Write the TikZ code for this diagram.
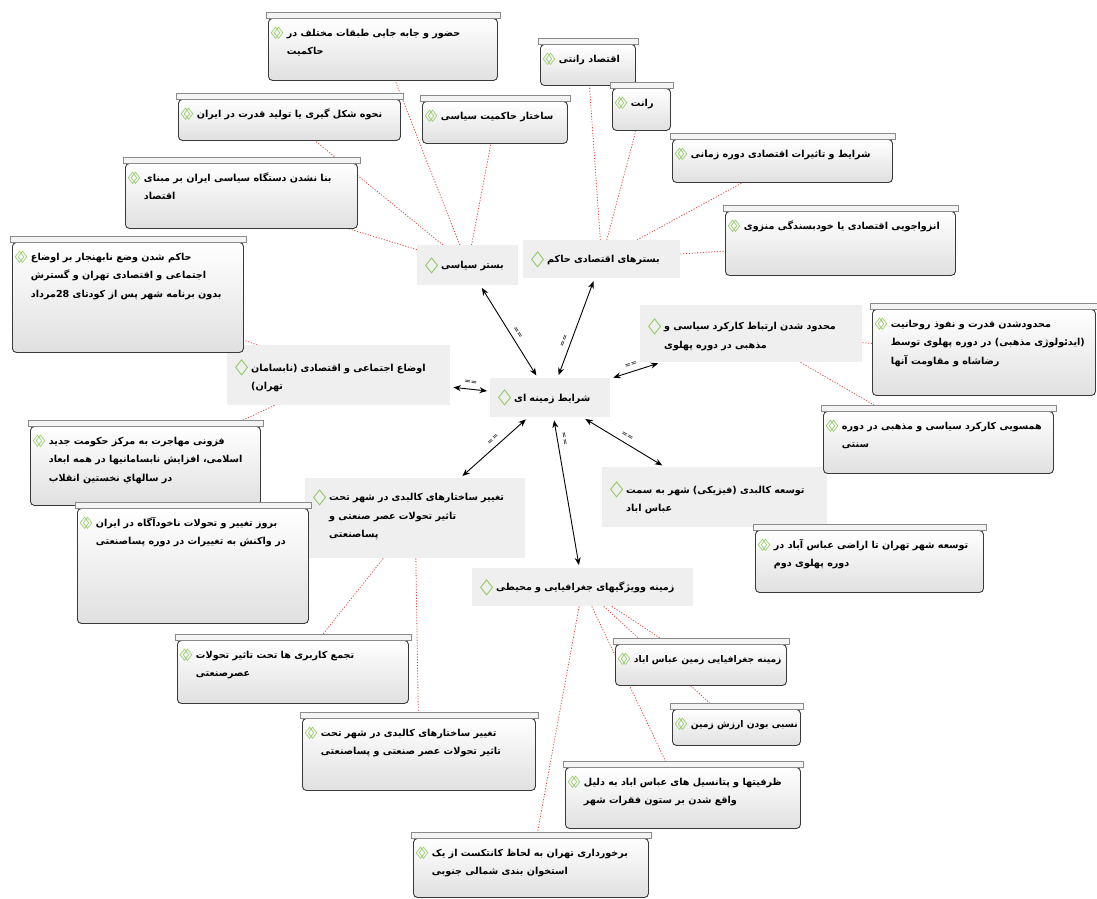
\documentclass[tikz,border=0pt]{standalone}
\usepackage{fontspec}
\usepackage{graphicx}
\usetikzlibrary{arrows.meta}
\TeXXeTstate=1
\newfontfamily\fa[Script=Arabic]{DejaVu Sans}
\newfontfamily\symf{DejaVu Sans}
\definecolor{codebg}{HTML}{EFEFEF}
\definecolor{qborder}{HTML}{3A3A3A}
\definecolor{qbot}{HTML}{E0E0E0}
\definecolor{barfill}{HTML}{F4F4F4}
\definecolor{bargray}{HTML}{8A8A8A}
\definecolor{relred}{HTML}{E0504A}
\definecolor{icongreen}{HTML}{8DC85A}
\newcommand\qfont{\fa\bfseries\fontsize{9.6}{18.5}\selectfont}
\newcommand\sm{\fontsize{9.2}{18.5}\selectfont}
\newcommand\RL[1]{\mbox{\beginR#1\endR}}
\newcommand\ico{\strut\makebox[16pt][l]{\smash{\raisebox{-2.5pt}{\textcolor{icongreen}{\symf\fontsize{18}{18}\selectfont\scalebox{0.95}[1.2]{◇}}}}}}
\newcommand\icoq{\makebox[16pt][l]{\smash{\raisebox{-1.5pt}{\textcolor{icongreen}{\symf\fontsize{13}{13}\selectfont\scalebox{0.95}[1.25]{◇\kern-7pt◇}}}}}}
\newcommand\qbody[3]{\parbox[t][#2][t]{#1}{\qfont\raggedright\strut #3}}
\newcommand\ind{\hspace*{16pt}}
\pgfdeclarelayer{bg}
\pgfsetlayers{bg,main}
\begin{document}
\begin{tikzpicture}[x=1pt,y=-1pt,
  code/.style={fill=codebg, inner xsep=8pt, inner ysep=0pt, anchor=north west, align=left, font=\qfont},
  qb/.style={draw=qborder, line width=0.9pt, rounded corners=4pt, top color=white, bottom color=qbot, inner xsep=2.5pt, inner ysep=5pt, anchor=north west},
  qbar/.style={fill=barfill, draw=bargray, line width=0.6pt},
  rel/.style={draw=relred, line width=0.8pt, dash pattern=on 1.2pt off 1.6pt},
  arr/.style={{Stealth[length=7.5pt,width=6pt]}-{Stealth[length=7.5pt,width=6pt]}, line width=0.9pt, shorten <=3pt, shorten >=3pt},
  lbl/.style={font=\symf\fontsize{7.5}{7.5}\selectfont, sloped, above=4pt, inner sep=0.5pt}]
\useasboundingbox (0,0) rectangle (1097,899);

% code nodes
\node[code, minimum width=120pt, minimum height=39pt, text width=104pt] (c0) at (490,378) {\ico\RL{شرایط زمینه ای}};
\node[code, minimum width=101pt, minimum height=40pt, text width=85pt] (c1) at (417,245) {\ico\RL{بستر سیاسی}};
\node[code, minimum width=157pt, minimum height=38pt, text width=141pt] (c2) at (523,240) {\ico\RL{بسترهای اقتصادی حاکم}};
\node[code, minimum width=223pt, minimum height=60pt, text width=207pt] (c3) at (227,345) {\ico\RL{اوضاع اجتماعی و اقتصادی (نابسامان}\\\ind\RL{تهران)}};
\node[code, minimum width=222pt, minimum height=57pt, text width=206pt] (c4) at (640,305) {\ico\RL{محدود شدن ارتباط کارکرد سیاسی و}\\\ind\RL{مذهبی در دوره پهلوی}};
\node[code, minimum width=225pt, minimum height=60pt, text width=209pt] (c5) at (602,467) {\ico\RL{توسعه کالبدی (فیزیکی) شهر به سمت}\\\ind\RL{عباس اباد}};
\node[code, minimum width=220pt, minimum height=80pt, text width=204pt] (c6) at (305,478) {\ico\RL{تغییر ساختارهای کالبدی در شهر تحت}\\\ind\RL{تاثیر تحولات عصر صنعتی و}\\\ind\RL{پساصنعتی}\\[-8pt]\mbox{}};
\node[code, minimum width=221pt, minimum height=38pt, text width=205pt] (c7) at (472,568) {\ico\RL{زمینه وویژگیهای جغرافیایی و محیطی}};

% quotation boxes
\node[qb] (A) at (268,18) {\qbody{224pt}{52pt}{\icoq\RL{حضور و جابه جایی طبقات مختلف در}\\\ind\RL{حاکمیت}}};
\node[qb] (B) at (178,99) {\qbody{217pt}{31pt}{\icoq\RL{نحوه شکل گیری یا تولید قدرت در ایران}}};
\node[qb] (C) at (125,163) {\qbody{227pt}{55pt}{\icoq\RL{بنا نشدن دستگاه سیاسی ایران بر مبنای}\\\ind\RL{اقتصاد}}};
\node[qb] (D) at (422,101) {\qbody{140pt}{32pt}{\icoq\RL{ساختار حاکمیت سیاسی}}};
\node[qb] (E) at (540,44) {\qbody{90pt}{31pt}{\icoq\RL{اقتصاد رانتی}}};
\node[qb] (F) at (612,88) {\qbody{53pt}{32pt}{\icoq\RL{رانت}}};
\node[qb] (G) at (672,139) {\qbody{215pt}{33pt}{\icoq\RL{شرایط و تاثیرات اقتصادی دوره زمانی}}};
\node[qb] (H) at (725,211) {\qbody{225pt}{54pt}{\icoq\RL{انزواجویی اقتصادی یا خودبسندگی منزوی}}};
\node[qb] (I) at (12,242) {\qbody{226pt}{100pt}{\icoq\RL{حاکم شدن وضع نابهنجار بر اوضاع}\\\ind\RL{اجتماعی و اقتصادی تهران و گسترش}\\\ind\RL{بدون برنامه شهر پس از کودتای 28مرداد}}};
\node[qb] (J) at (30,426) {\qbody{225pt}{69pt}{\icoq\RL{فزونی مهاجرت به مرکز حکومت جدید}\\\ind\RL{اسلامی، افزایش نابسامانیها در همه ابعاد}\\\ind\RL{در سالهاي نخستين انقلاب}}};
\node[qb] (K) at (872,309) {\qbody{218pt}{76pt}{\icoq\RL{محدودشدن قدرت و نفوذ روحانیت}\\\ind\RL{(ایدئولوژی مذهبی) در دوره پهلوی توسط}\\\ind\RL{رضاشاه و مقاومت آنها}}};
\node[qb] (L) at (823,411) {\qbody{225pt}{52pt}{\icoq\RL{همسویی کارکرد سیاسی و مذهبی در دوره}\\\ind\RL{سنتی}}};
\node[qb] (M) at (755,530) {\qbody{223pt}{52pt}{\icoq\RL{توسعه شهر تهران تا اراضی عباس آباد در}\\\ind\RL{دوره پهلوی دوم}}};
\node[qb] (N) at (77,508) {\qbody{226pt}{105pt}{\icoq\RL{بروز تغییر و تحولات ناخودآگاه در ایران}\\\ind\RL{در واکنش به تغییرات در دوره پساصنعتی}}};
\node[qb] (O) at (177,640) {\qbody{226pt}{53pt}{\icoq\RL{تجمع کاربری ها تحت تاثیر تحولات}\\\ind\RL{عصرصنعتی}}};
\node[qb] (P) at (302,718) {\qbody{228pt}{62pt}{\icoq\RL{تغییر ساختارهای کالبدی در شهر تحت}\\\ind\RL{تاثیر تحولات عصر صنعتی و پساصنعتی}}};
\node[qb] (Q) at (615,644) {\qbody{166pt}{31pt}{\icoq\sm\RL{زمینه جغرافیایی زمین عباس اباد}}};
\node[qb] (R) at (672,709) {\qbody{123pt}{26pt}{\icoq\sm\RL{نسبی بودن ارزش زمین}}};
\node[qb] (S) at (565,767) {\qbody{230pt}{51pt}{\icoq\RL{ظرفیتها و پتانسیل های عباس اباد به دلیل}\\\ind\RL{واقع شدن بر ستون فقرات شهر}}};
\node[qb] (T) at (413,838) {\qbody{230pt}{49pt}{\icoq\RL{برخورداری تهران به لحاظ کانتکست از یک}\\\ind\RL{استخوان بندی شمالی جنوبی}}};

\foreach \q in {A,B,C,D,E,F,G,H,I,J,K,L,M,N,O,P,Q,R,S,T}
  \draw[qbar] ([xshift=-2pt]\q.north west) rectangle ([xshift=2pt,yshift=6pt]\q.north east);

\begin{pgfonlayer}{bg}
\fill[white] (0,0) rectangle (1097,899);
\foreach \a/\b in {c1/A,c1/B,c1/C,c1/D,c2/E,c2/F,c2/G,c2/H,c3/I,c3/J,c4/K,c4/L,c5/M,c6/N,c6/O,c6/P,c7/Q,c7/R,c7/S,c7/T}
  \draw[rel] (\a) -- (\b);
\end{pgfonlayer}

\draw[arr] (c0) -- node[lbl, pos=0.45] {==} (c1);
\draw[arr] (c0) -- node[lbl, pos=0.35] {==} (c2);
\draw[arr] (c0) -- node[lbl, pos=0.5] {==} (c3);
\draw[arr] (c0) -- node[lbl, pos=0.45] {==} (c4);
\draw[arr] (c0) -- node[lbl, pos=0.5] {==} (c5);
\draw[arr] (c0) -- node[lbl, pos=0.45] {==} (c6);
\draw[arr] (c0) -- node[lbl, pos=0.15] {==} (c7);
\end{tikzpicture}
\end{document}
